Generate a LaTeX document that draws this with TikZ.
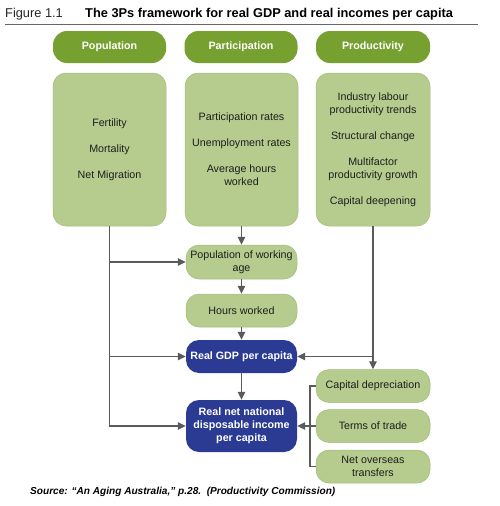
\documentclass[tikz,border=0pt]{standalone}
\usepackage{fontspec}
\setmainfont{Liberation Sans}
\usetikzlibrary{arrows.meta}
\definecolor{hdrgreen}{HTML}{76A02F}
\definecolor{lightgreen}{HTML}{B5CC8E}
\definecolor{lgborder}{HTML}{A3BC78}
\definecolor{darkblue}{HTML}{2B3A92}
\definecolor{linegray}{HTML}{5A5A5A}
\definecolor{txt}{HTML}{1E1E1E}
\begin{document}
\begin{tikzpicture}[x=1pt,y=-1pt,
  every node/.style={font=\fontsize{10.7}{13}\selectfont, text=txt, inner sep=0pt, align=center},
  hdr/.style={fill=hdrgreen, draw=none, rounded corners=14pt, minimum height=32pt, minimum width=113pt, text=white, font=\fontsize{10.7}{13}\selectfont\bfseries},
  bigbox/.style={fill=lightgreen, draw=lgborder, line width=0.5pt, rounded corners=13pt, minimum height=153pt, minimum width=113pt},
  gbox/.style={fill=lightgreen, draw=lgborder, line width=0.5pt, rounded corners=13pt, minimum height=33pt, minimum width=111pt},
  bbox/.style={fill=darkblue, draw=none, rounded corners=13pt, minimum width=111pt, text=white, font=\fontsize{10.7}{13}\selectfont\bfseries},
  conn/.style={draw=linegray, line width=1.2pt},
  arr/.style={conn, -{Triangle[length=8pt,width=7.5pt]}}
]
\useasboundingbox (0,0) rectangle (500,506);
\fill[white] (0,0) rectangle (500,506);

% title
\node[anchor=base west, font=\fontsize{12.8}{15}\selectfont, text=black!85] (figlab) at (5,17) {Figure 1.1};
\node[anchor=base west, font=\fontsize{12.8}{15}\selectfont\bfseries, text=black] (title) at (85,17) {The 3Ps framework for real GDP and real incomes per capita};
\draw[draw=gray!80!black, line width=0.9pt] (5,24.5) -- (478,24.5);

% headers
\node[hdr] (pophdr) at (109.5,47) {Population};
\node[hdr] (parthdr) at (241,47) {Participation};
\node[hdr, minimum width=114pt] (prodhdr) at (373,47) {Productivity};

% big boxes
\node[bigbox] (popbox) at (109.5,149.5) {Fertility\\[13pt]Mortality\\[13pt]Net Migration};
\node[bigbox] (partbox) at (241.5,149.5) {Participation rates\\[13pt]Unemployment rates\\[13pt]Average hours\\worked};
\node[bigbox, minimum width=114pt] (prodbox) at (373,149.5) {Industry labour\\productivity trends\\[13pt]Structural change\\[13pt]Multifactor\\productivity growth\\[13pt]Capital deepening};

% centre column
\node[gbox, minimum height=34pt] (pwa) at (241.5,262) {Population of working\\age};
\node[gbox] (hw) at (241.5,310.5) {Hours worked};
\node[bbox, minimum height=33pt] (gdp) at (241.5,356.5) {Real GDP per capita};
\node[bbox, minimum height=52pt] (rnndi) at (241.5,426) {Real net national\\disposable income\\per capita};

% right column
\node[gbox, minimum width=114pt] (capdep) at (373,386) {Capital depreciation};
\node[gbox, minimum width=114pt] (tot) at (373,426) {Terms of trade};
\node[gbox, minimum width=114pt] (nettr) at (373,466.5) {Net overseas\\transfers};

% connectors: population
\draw[arr] (popbox.south) |- (rnndi.west);
\draw[arr] (popbox.south |- pwa.west) -- (pwa.west);
\draw[arr] (popbox.south |- gdp.west) -- (gdp.west);

% participation chain
\draw[arr] (partbox.south) -- (pwa.north);
\draw[arr] (pwa.south) -- (hw.north);
\draw[arr] (hw.south) -- (gdp.north);
\draw[arr] (gdp.south) -- (rnndi.north);

% productivity
\draw[arr] (prodbox.south) -- (capdep.north);
\draw[arr] (prodbox.south |- gdp.east) -- (gdp.east);

% bracket
\coordinate (brtop) at (310,386);
\coordinate (brbot) at (310,466.5);
\coordinate (brmid) at (310,426);
\draw[conn] (capdep.west) -- (brtop) -- (brbot) -- (nettr.west);
\draw[conn] (tot.west) -- (brmid);
\draw[arr] (brmid) -- (rnndi.east);

% source
\node[anchor=base west, font=\fontsize{10.1}{12}\selectfont\bfseries\itshape, text=black] (src) at (30,494) {Source: ``An Aging Australia,'' p.28.\ \ (Productivity Commission)};
\end{tikzpicture}
\end{document}
